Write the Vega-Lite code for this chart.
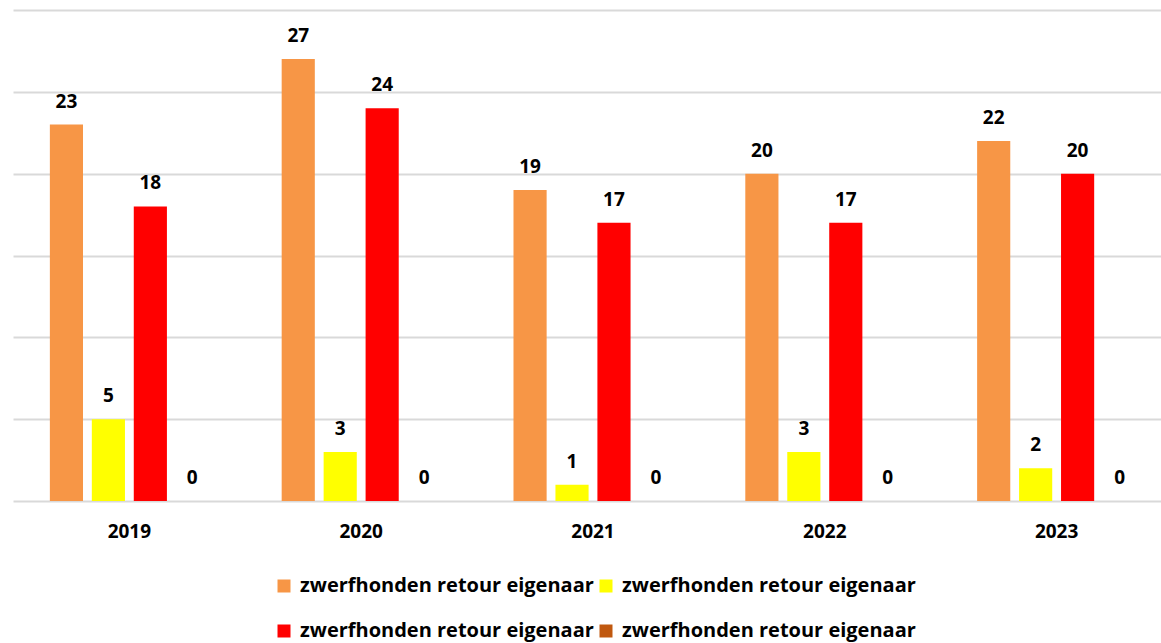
{
  "$schema": "https://vega.github.io/schema/vega-lite/v6.json",
  "width": 1148,
  "height": 491,
  "autosize": {"type": "none"},
  "padding": {"left": 13, "top": 10, "right": 0, "bottom": 142},
  "background": "white",
  "config": {
    "view": {"stroke": null},
    "font": "Open Sans"
  },
  "data": {
    "values": [
      {"jaar": "2019", "serie": "reeks 1", "aantal": 23},
      {"jaar": "2019", "serie": "reeks 2", "aantal": 5},
      {"jaar": "2019", "serie": "reeks 3", "aantal": 18},
      {"jaar": "2019", "serie": "reeks 4", "aantal": 0},
      {"jaar": "2020", "serie": "reeks 1", "aantal": 27},
      {"jaar": "2020", "serie": "reeks 2", "aantal": 3},
      {"jaar": "2020", "serie": "reeks 3", "aantal": 24},
      {"jaar": "2020", "serie": "reeks 4", "aantal": 0},
      {"jaar": "2021", "serie": "reeks 1", "aantal": 19},
      {"jaar": "2021", "serie": "reeks 2", "aantal": 1},
      {"jaar": "2021", "serie": "reeks 3", "aantal": 17},
      {"jaar": "2021", "serie": "reeks 4", "aantal": 0},
      {"jaar": "2022", "serie": "reeks 1", "aantal": 20},
      {"jaar": "2022", "serie": "reeks 2", "aantal": 3},
      {"jaar": "2022", "serie": "reeks 3", "aantal": 17},
      {"jaar": "2022", "serie": "reeks 4", "aantal": 0},
      {"jaar": "2023", "serie": "reeks 1", "aantal": 22},
      {"jaar": "2023", "serie": "reeks 2", "aantal": 2},
      {"jaar": "2023", "serie": "reeks 3", "aantal": 20},
      {"jaar": "2023", "serie": "reeks 4", "aantal": 0}
    ]
  },
  "encoding": {
    "x": {
      "field": "jaar",
      "type": "nominal",
      "scale": {"range": [0, 1160], "paddingInner": 0.276, "paddingOuter": 0.14},
      "axis": {
        "title": null,
        "domain": false,
        "ticks": false,
        "labelAngle": 0,
        "labelFontSize": 19,
        "labelFontWeight": "bold",
        "labelColor": "#000000",
        "labelPadding": 21,
        "grid": false
      }
    },
    "xOffset": {
      "field": "serie",
      "type": "nominal",
      "scale": {"paddingInner": 0.21, "paddingOuter": 0.105}
    },
    "y": {
      "field": "aantal",
      "type": "quantitative",
      "scale": {"domain": [0, 30], "nice": false},
      "axis": {
        "title": null,
        "labels": false,
        "ticks": false,
        "domain": false,
        "values": [0, 5, 10, 15, 20, 25, 30],
        "gridColor": "#d9d9d9",
        "gridWidth": 2
      }
    }
  },
  "layer": [
    {
      "mark": {"type": "bar"},
      "encoding": {
        "color": {
          "field": "serie",
          "type": "nominal",
          "scale": {
            "domain": ["reeks 1", "reeks 2", "reeks 3", "reeks 4"],
            "range": ["#F79646", "#FFFF00", "#FF0000", "#C0580F"]
          },
          "legend": {
            "title": null,
            "orient": "none",
            "legendX": 261,
            "legendY": 566,
            "direction": "horizontal",
            "columns": 2,
            "columnPadding": 2,
            "rowPadding": 25,
            "symbolType": "square",
            "symbolSize": 169,
            "symbolStrokeWidth": 0,
            "labelFontSize": 20,
            "labelFontWeight": "bold",
            "labelColor": "#000000",
            "labelLimit": 400,
            "labelOffset": 6,
            "labelExpr": "'zwerfhonden retour eigenaar'"
          }
        }
      }
    },
    {
      "mark": {
        "type": "text",
        "baseline": "alphabetic",
        "dy": -17,
        "fontSize": 19,
        "fontWeight": "bold",
        "color": "#000000"
      },
      "encoding": {
        "text": {"field": "aantal", "type": "quantitative"}
      }
    }
  ]
}
